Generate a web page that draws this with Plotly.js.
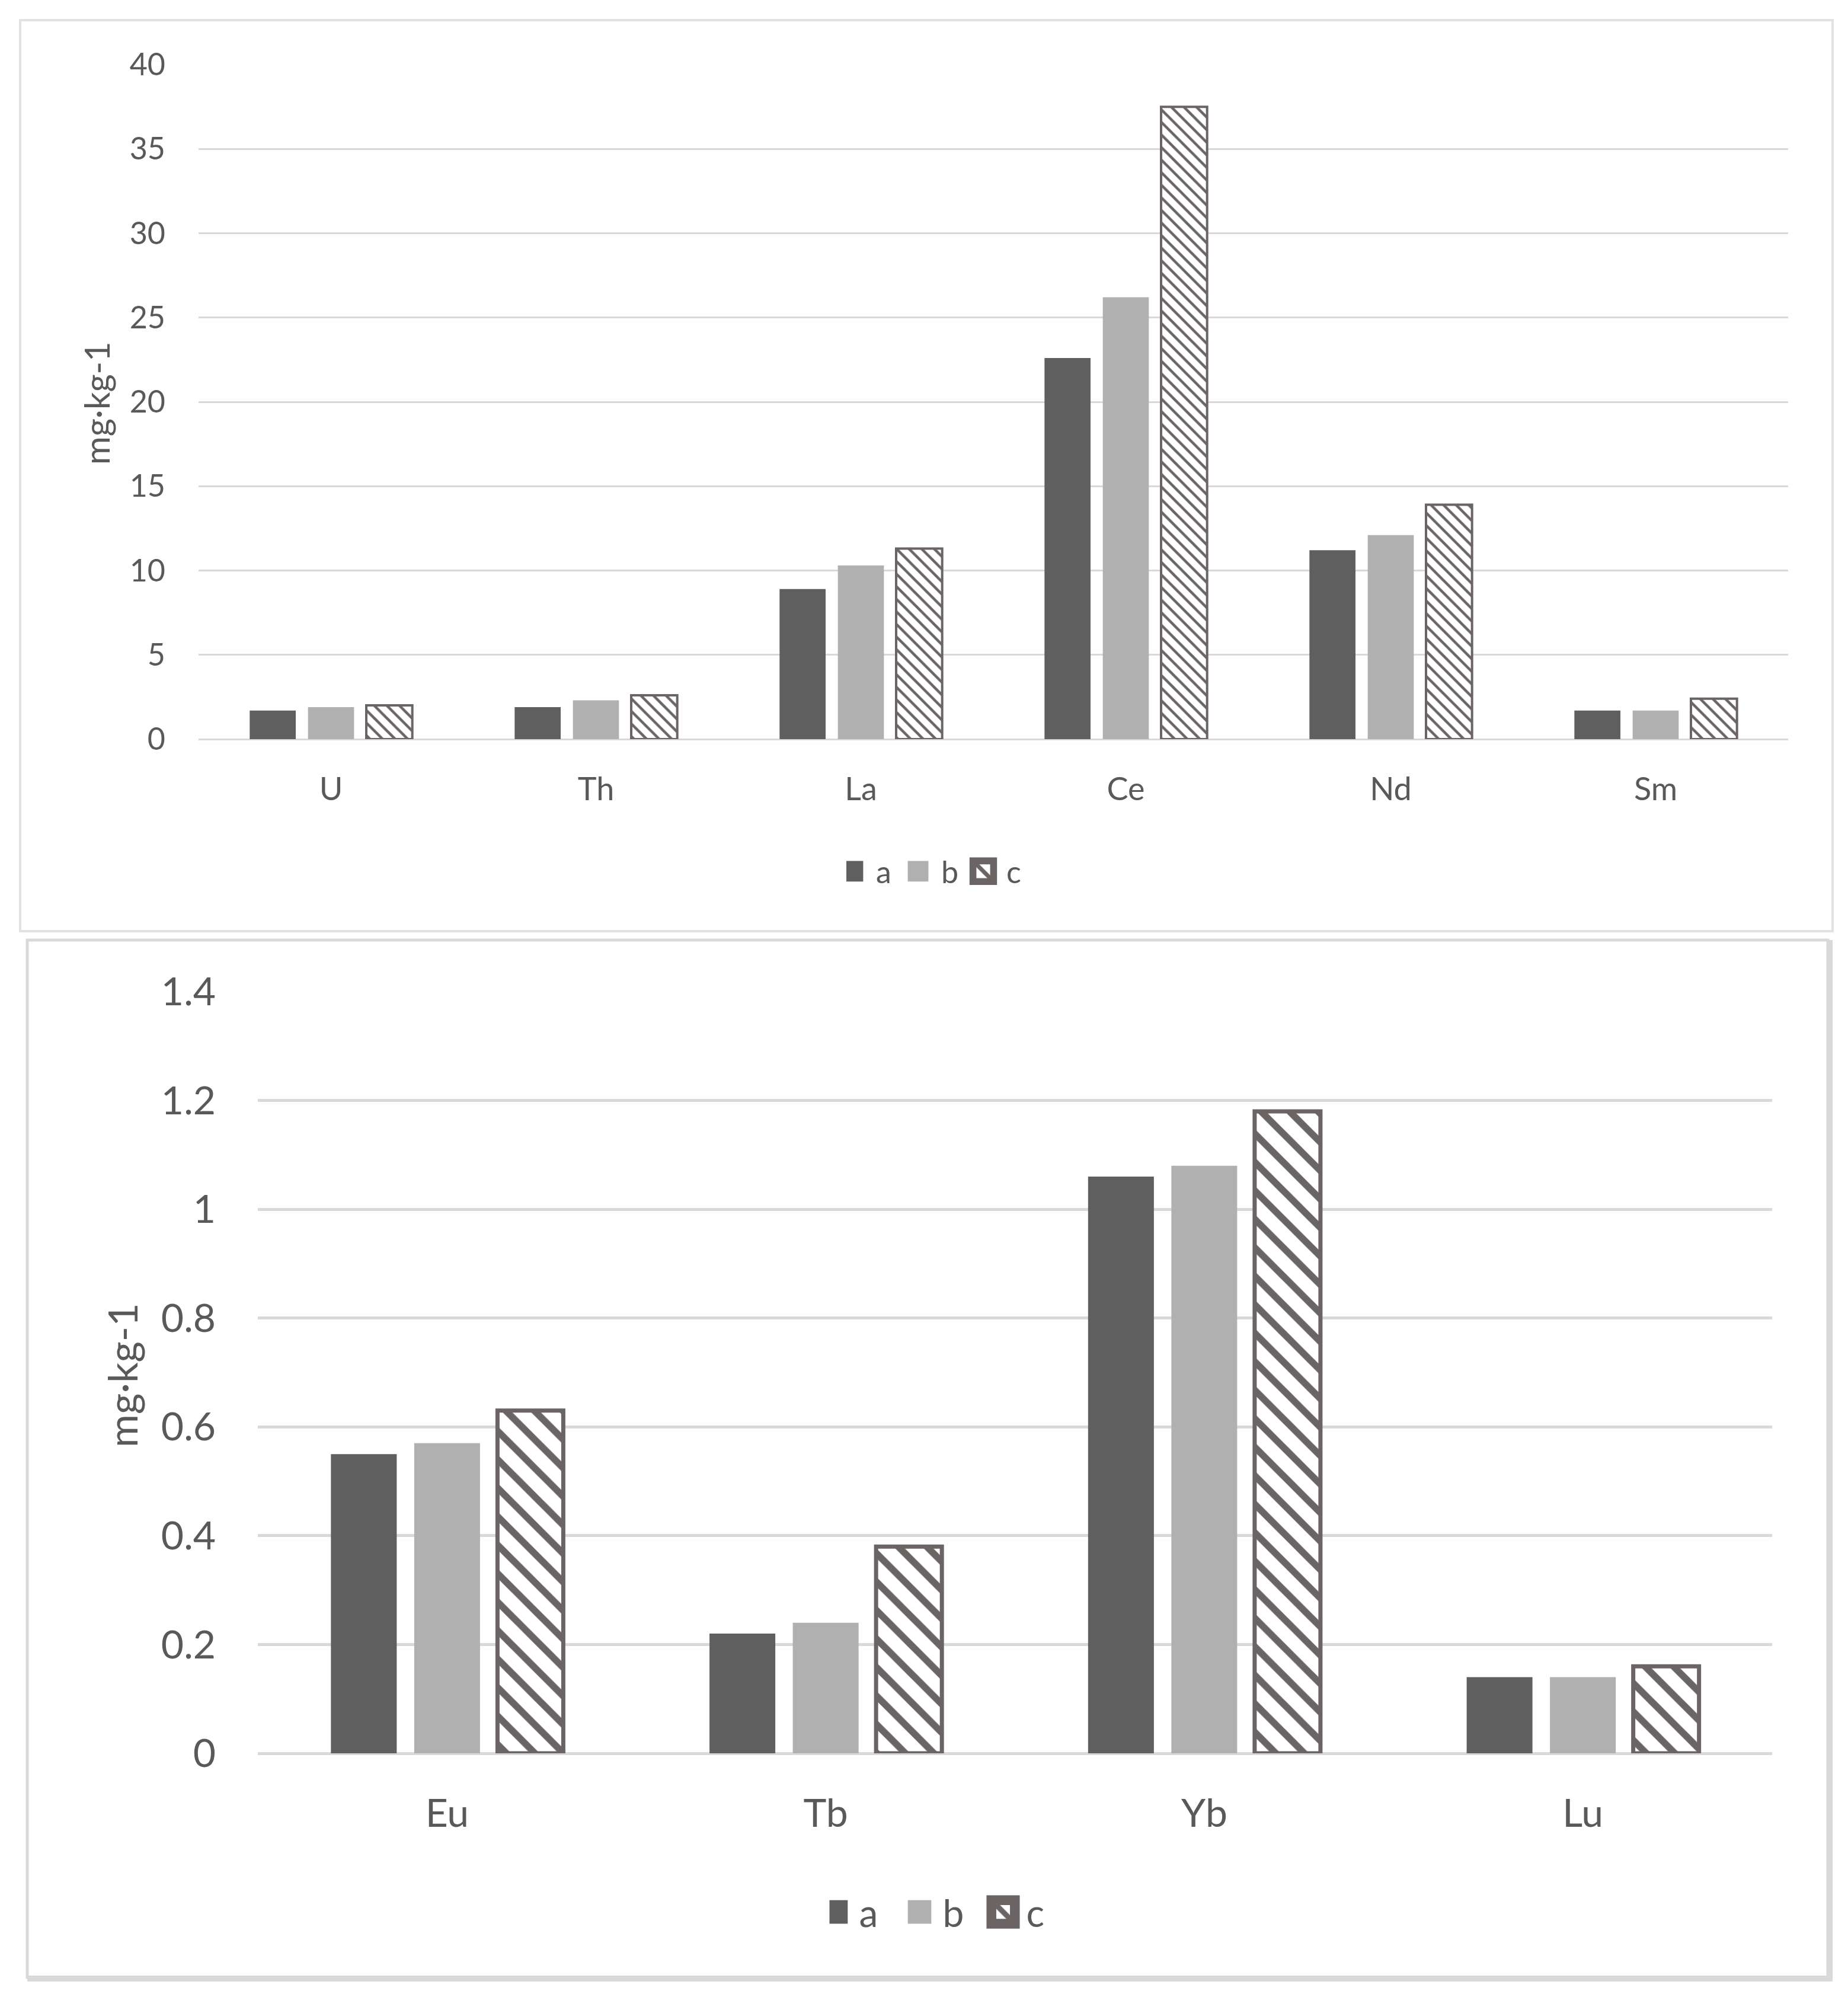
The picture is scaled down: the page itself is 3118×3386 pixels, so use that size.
<!DOCTYPE html>
<html>
<head>
<meta charset="utf-8">
<script src="https://cdn.plot.ly/plotly-3.0.1.min.js"></script>
<style>
  html, body { margin: 0; padding: 0; background: #ffffff; }
  #chart { width: 3118px; height: 3386px; }
</style>
</head>
<body>
<div id="chart"></div>
<script>
// ---- data ----
const seriesNames = ['a', 'b', 'c'];

const topCategories = ['U', 'Th', 'La', 'Ce', 'Nd', 'Sm'];
const topA = [1.7, 1.9, 8.9, 22.6, 11.2, 1.7];
const topB = [1.9, 2.3, 10.3, 26.2, 12.1, 1.7];
const topC = [2.0, 2.6, 11.3, 37.5, 13.9, 2.4];
const topTicks = [0, 5, 10, 15, 20, 25, 30, 35, 40];

const bottomCategories = ['Eu', 'Tb', 'Yb', 'Lu'];
const bottomA = [0.55, 0.22, 1.06, 0.14];
const bottomB = [0.57, 0.24, 1.08, 0.14];
const bottomC = [0.63, 0.38, 1.18, 0.16];
const bottomTicks = [0, 0.2, 0.4, 0.6, 0.8, 1, 1.2, 1.4];

const yTitle = 'mg·kg-1';

// ---- styling ----
const W = 3118, H = 3386;
const colA = '#5f5f5f', colB = '#b0b0b0', colHatch = '#6b6464';
const textCol = '#595959';
const FONT = 'Lato, "Liberation Sans", sans-serif';

function px(x) { return x / W; }
function py(y) { return 1 - y / H; }

const traces = [
  { type: 'bar', name: seriesNames[0], x: topCategories, y: topA, xaxis: 'x', yaxis: 'y', legend: 'legend',
    marker: { color: colA, line: { width: 0 } } },
  { type: 'bar', name: seriesNames[1], x: topCategories, y: topB, xaxis: 'x', yaxis: 'y', legend: 'legend',
    marker: { color: colB, line: { width: 0 } } },
  { type: 'bar', name: seriesNames[2], x: topCategories, y: topC, xaxis: 'x', yaxis: 'y', legend: 'legend',
    marker: { color: '#ffffff', line: { color: colHatch, width: 4 },
      pattern: { shape: '\\', fgcolor: colHatch, bgcolor: '#ffffff', size: 15, solidity: 0.3, fillmode: 'replace' } } },
  { type: 'bar', name: seriesNames[0], x: bottomCategories, y: bottomA, xaxis: 'x2', yaxis: 'y2', legend: 'legend2',
    marker: { color: colA, line: { width: 0 } } },
  { type: 'bar', name: seriesNames[1], x: bottomCategories, y: bottomB, xaxis: 'x2', yaxis: 'y2', legend: 'legend2',
    marker: { color: colB, line: { width: 0 } } },
  { type: 'bar', name: seriesNames[2], x: bottomCategories, y: bottomC, xaxis: 'x2', yaxis: 'y2', legend: 'legend2',
    marker: { color: '#ffffff', line: { color: colHatch, width: 7 },
      pattern: { shape: '\\', fgcolor: colHatch, bgcolor: '#ffffff', size: 34, solidity: 0.34, fillmode: 'replace' } } }
];

const layout = {
  width: W, height: H,
  margin: { l: 0, r: 0, t: 0, b: 0 },
  paper_bgcolor: '#ffffff', plot_bgcolor: '#ffffff',
  barmode: 'group', bargap: 0.34, bargroupgap: 0.21,
  font: { family: FONT, color: textCol },
  showlegend: true,
  xaxis: {
    domain: [px(335), px(3017)], anchor: 'y', type: 'category',
    showgrid: false, showline: false, zeroline: false, ticks: '',
    tickfont: { family: FONT, size: 54, color: textCol }, ticklabelstandoff: 48, fixedrange: true
  },
  yaxis: {
    domain: [py(1247), py(109)], anchor: 'x', range: [0, 40], tickvals: topTicks,
    showgrid: true, gridcolor: '#d9d9d9', gridwidth: 3,
    zeroline: true, zerolinecolor: '#d9d9d9', zerolinewidth: 3, showline: false, ticks: '',
    tickfont: { family: FONT, size: 52, color: textCol }, ticklabelstandoff: 55, fixedrange: true
  },
  xaxis2: {
    domain: [px(435), px(2990)], anchor: 'y2', type: 'category',
    showgrid: false, showline: false, zeroline: false, ticks: '',
    tickfont: { family: FONT, size: 66, color: textCol }, ticklabelstandoff: 57, fixedrange: true
  },
  yaxis2: {
    domain: [py(2958), py(1673)], anchor: 'x2', range: [0, 1.4], tickvals: bottomTicks,
    showgrid: true, gridcolor: '#d9d9d9', gridwidth: 5,
    zeroline: true, zerolinecolor: '#d9d9d9', zerolinewidth: 5, showline: false, ticks: '',
    tickfont: { family: FONT, size: 66, color: textCol }, ticklabelstandoff: 70, fixedrange: true
  },
  legend: {
    orientation: 'h', x: px(1593), xanchor: 'center', y: py(1470), yanchor: 'middle',
    font: { family: FONT, size: 52, color: textCol }, entrywidth: 55, entrywidthmode: 'pixels',
    itemwidth: 40, bgcolor: 'rgba(0,0,0,0)', itemclick: false, itemdoubleclick: false
  },
  legend2: {
    orientation: 'h', x: px(1611), xanchor: 'center', y: py(3226), yanchor: 'middle',
    font: { family: FONT, size: 64, color: textCol }, entrywidth: 86, entrywidthmode: 'pixels',
    itemwidth: 40, bgcolor: 'rgba(0,0,0,0)', itemclick: false, itemdoubleclick: false
  },
  annotations: [
    { text: yTitle, xref: 'paper', yref: 'paper', x: px(162), y: py(680), xanchor: 'center', yanchor: 'middle',
      textangle: -90, showarrow: false, font: { family: FONT, size: 58, color: textCol } },
    { text: yTitle, xref: 'paper', yref: 'paper', x: px(205), y: py(2320), xanchor: 'center', yanchor: 'middle',
      textangle: -90, showarrow: false, font: { family: FONT, size: 68, color: textCol } }
  ],
  shapes: [
    { type: 'rect', xref: 'paper', yref: 'paper', x0: px(34), x1: px(3092), y0: py(1571), y1: py(34),
      line: { color: '#e2e2e2', width: 4 }, fillcolor: 'rgba(0,0,0,0)', layer: 'below' },
    { type: 'rect', xref: 'paper', yref: 'paper', x0: px(46), x1: px(3084), y0: py(3336), y1: py(1586),
      line: { color: '#d9d9d9', width: 5 }, fillcolor: 'rgba(0,0,0,0)', layer: 'below' },
    { type: 'line', xref: 'paper', yref: 'paper', x0: px(3087), x1: px(3087), y0: py(3342), y1: py(1586),
      line: { color: '#d9d9d9', width: 10 }, layer: 'below' },
    { type: 'line', xref: 'paper', yref: 'paper', x0: px(46), x1: px(3092), y0: py(3338), y1: py(3338),
      line: { color: '#d9d9d9', width: 10 }, layer: 'below' }
  ]
};

Plotly.newPlot('chart', traces, layout, { staticPlot: true, displayModeBar: false }).then(function (gd) {
  // enlarge the legend swatches to match the reference, leaving a gap before the text
  gd.querySelectorAll('.legendpoints path').forEach(function (p) {
    const r = p.getBoundingClientRect();
    const s = (r.top < H / 2) ? 2.9 : 3.3;
    const t = p.getAttribute('transform') || '';
    p.setAttribute('transform', t + ' translate(-14,0) scale(' + s + ')');
  });
});
</script>
</body>
</html>
